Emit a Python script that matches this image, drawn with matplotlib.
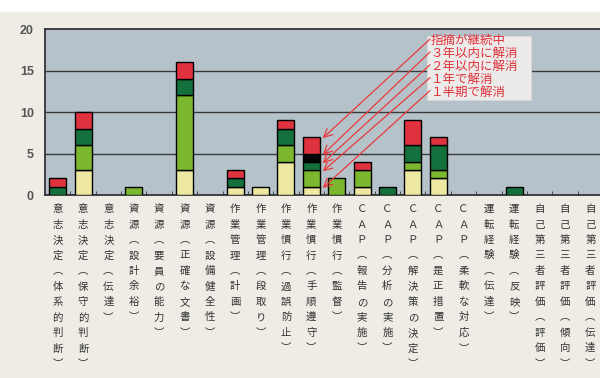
"""Stacked bar chart: findings per category, split by how long they took to resolve."""
import matplotlib

matplotlib.use("Agg")
import matplotlib.pyplot as plt
import numpy as np
from matplotlib.patches import Rectangle
from matplotlib.transforms import blended_transform_factory

plt.rcParams["font.family"] = ["Noto Sans CJK JP", "DejaVu Sans"]

categories = [
    "意志決定︵体系的判断︶", "意志決定︵保守的判断︶", "意志決定︵伝達︶",
    "資源︵設計余裕︶", "資源︵要員の能力︶", "資源︵正確な文書︶", "資源︵設備健全性︶",
    "作業管理︵計画︶", "作業管理︵段取り︶",
    "作業慣行︵過誤防止︶", "作業慣行︵手順遵守︶", "作業慣行︵監督︶",
    "ＣＡＰ︵報告の実施︶", "ＣＡＰ︵分析の実施︶", "ＣＡＰ︵解決策の決定︶",
    "ＣＡＰ︵是正措置︶", "ＣＡＰ︵柔軟な対応︶",
    "運転経験︵伝達︶", "運転経験︵反映︶",
    "自己第三者評価︵評価︶", "自己第三者評価︵傾向︶", "自己第三者評価︵伝達︶",
]

# stacked bottom -> top
half_term = [0, 3, 0, 0, 0, 3, 0, 1, 1, 4, 1, 0, 1, 0, 3, 2, 0, 0, 0, 0, 0, 0]
one_year = [0, 3, 0, 1, 0, 9, 0, 0, 0, 2, 2, 2, 2, 0, 1, 1, 0, 0, 0, 0, 0, 0]
two_years = [1, 2, 0, 0, 0, 2, 0, 1, 0, 2, 1, 0, 0, 1, 2, 3, 0, 0, 1, 0, 0, 0]
three_years = [0, 0, 0, 0, 0, 0, 0, 0, 0, 0, 1, 0, 0, 0, 0, 0, 0, 0, 0, 0, 0, 0]
ongoing = [1, 2, 0, 0, 0, 2, 0, 1, 0, 1, 2, 0, 1, 0, 3, 1, 0, 0, 0, 0, 0, 0]

series = [half_term, one_year, two_years, three_years, ongoing]
series_labels = ["１半期で解消", "１年で解消", "２年以内に解消", "３年以内に解消", "指摘が継続中"]
colors = ["#ece8a2", "#7cb82f", "#14703c", "#050505", "#e0323e"]

yticks = [0, 5, 10, 15, 20]
callout_bar = 10  # 作業慣行（手順遵守）

fig = plt.figure(figsize=(6, 3.78), dpi=100)
fig.patch.set_facecolor("#efece5")
fig.add_artist(Rectangle((0, 1 - 11 / 378), 1, 11 / 378, transform=fig.transFigure,
                         color="white", zorder=0))
ax = fig.add_axes([0.075, 0.484, 0.93, 0.439])
ax.set_facecolor("#b6c2ca")

x = np.arange(len(categories))
bottom = np.zeros(len(categories))
for vals, col in zip(series, colors):
    v = np.array(vals, dtype=float)
    mask = v > 0
    ax.bar(x[mask], v[mask], width=0.67, bottom=bottom[mask], color=col,
           edgecolor="black", linewidth=1.0, zorder=3)
    bottom += v

ax.set_xlim(-0.5, len(categories) - 0.5)
ax.set_ylim(0, 20)
ax.set_yticks(yticks)
ax.set_yticklabels([str(t) for t in yticks], family="Liberation Sans",
                   fontweight="bold", fontsize=9, color="#555555")
ax.tick_params(axis="y", length=0, pad=8)
for t in yticks[1:-1]:
    ax.axhline(t, color="#3a3a3a", lw=1.0, zorder=1)
ax.set_xticks(x[:-1] + 0.5, minor=True)
ax.set_xticks([])
ax.tick_params(axis="x", which="minor", direction="in", length=3, color="#333333")
for side in ["top", "left", "bottom"]:
    ax.spines[side].set_color("#333333")
    ax.spines[side].set_linewidth(1.3)
ax.spines["right"].set_visible(False)

# vertical category labels
trans = blended_transform_factory(ax.transData, ax.transAxes)
for xi, name in zip(x, categories):
    ax.text(xi, -0.055, "\n".join(name), transform=trans, ha="center", va="top",
            fontsize=7.5, linespacing=1.68, color="#333333", clip_on=False)

# callout box with arrows to the segments of one bar
line_y = [18.6, 17.05, 15.5, 13.95, 12.4]
ax.add_patch(Rectangle((14.55, 11.4), 4.1, 7.8, facecolor="#ecebea", edgecolor="#d8d8d8",
                       lw=0.6, zorder=4))
tops = np.cumsum([s[callout_bar] for s in series])
for i, lab in enumerate(reversed(series_labels)):
    ax.text(14.7, line_y[i], lab, fontsize=9, color="#e0303a", va="center", ha="left",
            zorder=5)
    k = len(series) - 1 - i
    tip_y = tops[k] - 0.15
    ax.annotate("", xy=(callout_bar + 0.45, tip_y), xytext=(14.68, line_y[i] + 0.2),
                arrowprops=dict(arrowstyle="->,head_length=0.6,head_width=0.3",
                                color="#e83a3a", lw=0.9, shrinkA=0, shrinkB=0),
                zorder=6)

fig.savefig("out.png", dpi=100, facecolor=fig.get_facecolor())
